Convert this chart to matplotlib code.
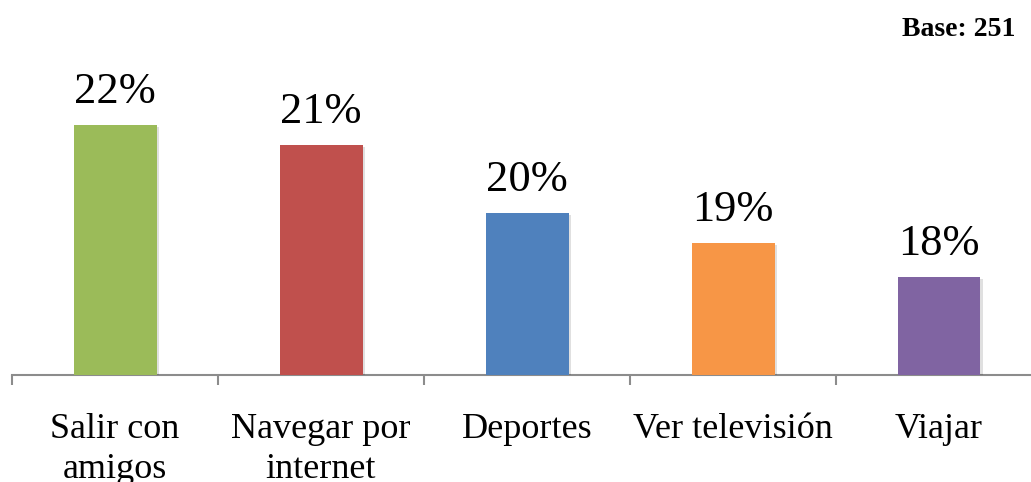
import matplotlib
matplotlib.use("Agg")
import matplotlib.pyplot as plt
import matplotlib.patheffects as pe

categories = ["Salir con\namigos", "Navegar por\ninternet", "Deportes", "Ver televisión", "Viajar"]
values = [21.8, 21.3, 19.6, 18.85, 18.0]
colors = ["#9BBB59", "#C0504D", "#4F81BD", "#F79646", "#8064A2"]
base_text = "Base: 251"

W, H = 1031, 482
fig = plt.figure(figsize=(W / 100, H / 100), dpi=100)
# axes: bottom at y=375 px, left at x=12 px, each category 206 px wide
ax = fig.add_axes([12 / W, (H - 375) / H, 1030 / W, 345 / H])
ymin = 15.55
scale = 40.0  # px per unit
ax.set_ylim(ymin, ymin + 345 / scale)
ax.set_xlim(-0.5, len(categories) - 0.5)

font = "Liberation Serif"
x = list(range(len(categories)))
bars = ax.bar(x, [v - ymin for v in values], bottom=ymin, width=83 / 206, color=colors,
              zorder=3)
for b in bars:
    b.set_path_effects([pe.SimplePatchShadow(offset=(1.5, -1.5), alpha=0.12, shadow_rgbFace="k"),
                        pe.Normal()])

for xi, v in zip(x, values):
    ax.text(xi, v + 0.32, f"{v:.0f}%", ha="center", va="bottom", fontsize=32,
            family=font, color="black")

for s in ["left", "right", "top"]:
    ax.spines[s].set_visible(False)
ax.spines["bottom"].set_color("#8C8C8C")
ax.spines["bottom"].set_linewidth(1.5)
ax.set_yticks([])
ax.set_xticks([i - 0.5 for i in range(len(categories) + 1)])
ax.set_xticklabels([])
ax.tick_params(axis="x", length=7, width=1.5, color="#8C8C8C", direction="out")
ax.set_xticks(x, minor=True)
ax.set_xticklabels(categories, minor=True, fontsize=26, family=font, linespacing=1.3)
ax.tick_params(axis="x", which="minor", length=0, pad=27)

fig.text(1015 / W, 1 - 30 / H, base_text, ha="right", va="center", fontsize=20,
         fontweight="bold", family=font)

fig.savefig("out.png", dpi=100)
